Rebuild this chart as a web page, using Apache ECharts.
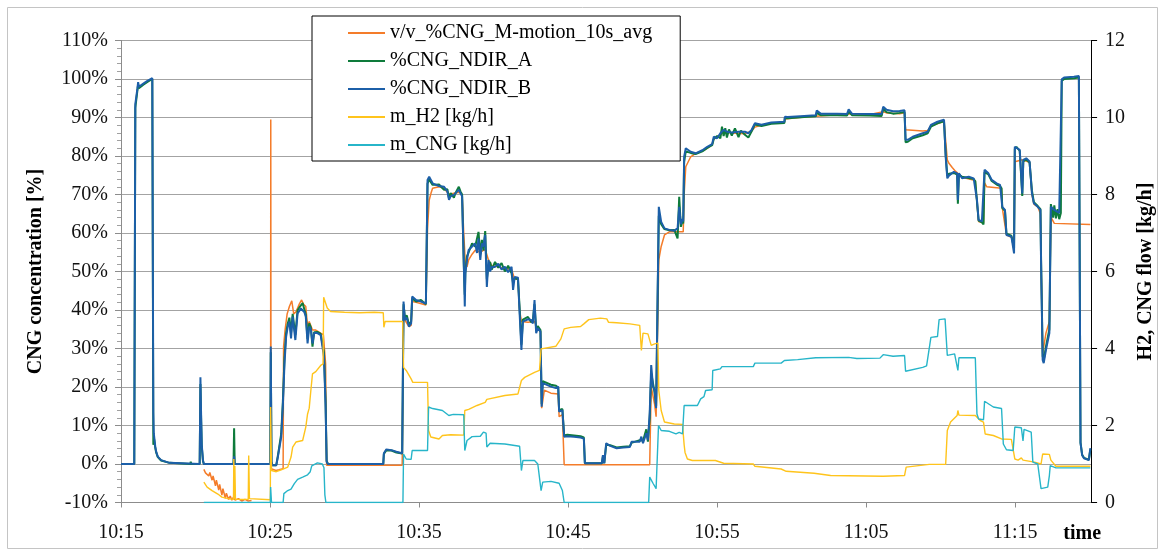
<!DOCTYPE html>
<html>
<head>
<meta charset="utf-8">
<title>CNG concentration and flows</title>
<script src="https://cdn.jsdelivr.net/npm/echarts@6/dist/echarts.min.js"></script>
<style>
  html, body { margin: 0; padding: 0; background: #fff; }
  #chart { width: 1164px; height: 558px; }
</style>
</head>
<body>
<div id="chart"></div>
<script>
// Time is given in minutes after the first clock tick (10:15).
const clockTicks = ['10:15', '10:25', '10:35', '10:45', '10:55', '11:05', '11:15'];
const timeSpan = 65.1;

const seriesNames = ['v/v_%CNG_M-motion_10s_avg', '%CNG_NDIR_A', '%CNG_NDIR_B', 'm_H2 [kg/h]', 'm_CNG [kg/h]'];

// v/v %CNG from the M-motion sensor, 10 s average [%]
const mmotionAvg = [
  [5.56, -1.4], [5.67, -2.3], [5.78, -1.8], [5.89, -3.1], [5.96, -2.2], [6.11, -4.2], [6.18, -3.1], [6.34, -5.7],
  [6.4, -4.2], [6.56, -6.8], [6.62, -5.3], [6.77, -8.1], [6.84, -6.4], [7.0, -8.9], [7.07, -7.6], [7.22, -9.2],
  [7.33, -8.3], [7.44, -9.4], [7.55, -8.6], [7.66, -9.4], [7.88, -9.0], [8.1, -9.6], [8.32, -9.2], [8.54, -9.6],
  [8.76, -9.5], [9.4, '-'], [10.04, 0], [10.05, 89.5], [10.07, -1.2], [10.4, -1.7], [10.6, -1.5], [10.88, -1.2],
  [10.91, 30.5], [11.01, 34.8], [11.15, 39], [11.3, 40.9], [11.46, 42.4], [11.59, 39], [11.74, 39.5], [11.97, 41.6],
  [12.12, 42.6], [12.25, 41.5], [12.4, 40.9], [12.52, 35.7], [12.63, 37], [12.85, 34.8], [13.07, 34.8], [13.4, 34],
  [13.58, 33.6], [13.73, 26], [13.8, -0.3], [18.87, -0.3], [18.96, 40.9], [19.05, 37.4], [19.32, 35.7], [19.47, 36],
  [19.54, 42.2], [19.8, 42], [20.46, 41.3], [20.57, 61], [20.68, 68.5], [20.8, 70.3], [20.91, 71.6], [21.34, 72],
  [21.68, 71.6], [22.01, 70], [22.34, 70.3], [22.67, 70.6], [22.89, 70], [23.0, 60], [23.11, 52], [23.22, 51.2],
  [23.33, 53], [23.56, 54.5], [23.77, 55.5], [24.11, 55], [24.44, 55.8], [24.66, 53], [24.88, 51.5], [25.32, 51.2],
  [25.76, 50.8], [26.21, 50.5], [26.42, 48], [26.64, 48], [26.75, 40], [26.87, 37], [27.31, 36.8], [27.75, 37],
  [27.97, 35], [28.15, 34.4], [28.23, 14.5], [28.41, 19.2], [28.85, 18.4], [29.34, 18.2], [29.4, 12.3], [29.62, 12.8],
  [29.74, -0.2], [35.48, -0.2], [35.58, 20.1], [35.81, 15.5], [35.91, 12.3], [36.03, 12.6], [36.09, 53], [36.25, 56.5],
  [36.47, 59.5], [36.8, 60.3], [37.35, 60.3], [37.73, 60.3], [37.79, 70], [37.9, 77.2], [38.23, 79.8], [38.56, 80.7],
  [39.01, 81.3], [39.34, 82], [39.67, 83], [39.78, 84.5], [40.22, 85.5], [40.44, 86.3], [40.99, 86], [41.87, 85.8],
  [42.32, 86.5], [42.54, 87.5], [42.98, 88], [43.64, 88.5], [44.52, 88.8], [44.55, 89.6], [45.85, 90.1], [46.62, 90.3],
  [46.69, 90.8], [48.06, 90.7], [48.83, 91], [50.26, 90.8], [51.15, 91.5], [51.37, 91.2], [52.25, 91], [52.58, 91.2],
  [52.65, 86.8], [53.8, 86.5], [54.13, 86.6], [54.35, 87.8], [55.23, 89], [55.34, 84], [55.45, 79], [55.56, 78.1],
  [55.78, 77], [56.01, 76], [56.44, 74.5], [57.33, 73.6], [57.44, 68], [57.55, 63], [57.88, 62.6], [57.95, 73],
  [58.1, 72], [59.09, 71.6], [59.14, 66.5], [59.42, 59.5], [59.87, 58.6], [59.93, 57], [59.98, 78.5], [60.09, 79],
  [60.48, 79], [60.97, 78.4], [61.13, 70], [61.26, 67.5], [61.52, 66.8], [61.7, 65], [61.74, 53], [61.85, 28.7],
  [62.07, 34], [62.3, 37], [62.4, 64.2], [62.63, 62.5], [62.74, 62.2], [65.05, 62.2]
];

// %CNG from NDIR analyser A [%]
const ndirA = [
  [0, 0], [0.89, 0], [0.96, 92.5], [1.1, 97], [1.15, 98.6], [1.2, 97.6], [1.5, 98.5], [1.8, 99.3], [2.1, 100],
  [2.14, 100.4], [2.17, 5.0], [2.22, 6.5], [2.3, 4.2], [2.36, 3.0], [2.47, 1.8], [2.69, 0.9], [3.25, 0.3], [3.36, 0],
  [4.65, 0], [4.68, 0.6], [4.72, 0], [5.28, 0], [5.33, 20.8], [5.38, 11], [5.42, 4.5], [5.5, 0.8], [5.56, 0],
  [7.55, 0], [7.59, 9.3], [7.63, 0], [10.02, 0], [10.05, 29], [10.1, 0.5], [10.15, -0.3], [10.42, -0.3], [10.53, 2.2],
  [10.75, 7.8], [10.86, 16], [10.97, 27.5], [11.08, 34], [11.19, 36.5], [11.3, 38], [11.41, 34], [11.52, 39],
  [11.7, 33.5], [11.85, 40], [12.07, 41.2], [12.19, 41.8], [12.3, 40.2], [12.4, 38.8], [12.52, 32.5], [12.63, 36.5],
  [12.74, 35.5], [12.85, 30.5], [12.96, 34.2], [13.18, 34.3], [13.4, 33.8], [13.51, 33.4], [13.62, 29], [13.73, 16],
  [13.8, 0.8], [13.89, 0], [17.6, 0], [17.64, 2.6], [17.81, 3.6], [18.15, 3.5], [18.48, 3.0], [18.87, 2.7],
  [18.96, 41.5], [19.05, 38], [19.18, 38.6], [19.32, 36.2], [19.47, 37], [19.54, 43], [19.8, 42.2], [20.13, 42.6],
  [20.46, 41.5], [20.57, 72.8], [20.68, 73.9], [20.91, 72.5], [21.34, 72.6], [21.68, 71.2], [21.9, 71.4], [22.01, 69],
  [22.12, 70.4], [22.34, 69.2], [22.45, 70.4], [22.67, 72], [22.78, 70.8], [22.89, 70], [23.0, 52], [23.07, 44],
  [23.11, 50], [23.22, 54], [23.33, 55], [23.56, 57.3], [23.77, 56.5], [23.89, 56], [23.99, 60.3], [24.11, 54.5],
  [24.22, 58.2], [24.32, 55.5], [24.44, 60.5], [24.55, 48], [24.66, 51.5], [24.77, 52.5], [24.88, 50.5], [25.1, 52.5],
  [25.32, 51], [25.54, 52.2], [25.76, 50], [25.98, 51.5], [26.21, 49.5], [26.31, 47], [26.42, 48.3], [26.64, 48],
  [26.75, 40.5], [26.87, 31], [26.97, 37.5], [27.31, 38.2], [27.53, 36.8], [27.64, 37.4], [27.75, 41.5], [27.86, 35],
  [27.97, 35.8], [28.15, 34.8], [28.23, 15.5], [28.3, 21.5], [28.41, 22], [28.85, 20.6], [29.19, 20.3], [29.34, 19.8],
  [29.4, 14], [29.52, 13.6], [29.62, 14.3], [29.74, 7.4], [29.95, 7.6], [30.4, 7.4], [30.84, 7.2], [31.06, 6.9],
  [31.13, 0.2], [32.27, 0.2], [32.34, 2.0], [32.43, 0.2], [32.56, 5.0], [32.83, 4.9], [33.26, 4.3], [33.71, 4.5],
  [34.15, 4.6], [34.26, 5.5], [34.81, 6.2], [34.92, 6.6], [35.03, 6.0], [35.25, 9], [35.36, 5.8], [35.48, 12],
  [35.58, 23.5], [35.7, 21], [35.81, 18.5], [35.91, 15], [36.03, 15.2], [36.09, 64.5], [36.25, 62.3], [36.47, 61],
  [36.8, 60.7], [37.13, 60.8], [37.35, 58.6], [37.46, 69.4], [37.57, 61.6], [37.68, 63.2], [37.73, 62.5], [37.79, 78.5],
  [37.9, 81.2], [38.23, 80.8], [38.56, 80.5], [39.01, 81.2], [39.34, 82.1], [39.67, 82.8], [39.78, 84.4], [40, 85.2],
  [40.22, 84.6], [40.33, 87.6], [40.44, 85.2], [40.55, 87.2], [40.66, 84.8], [40.8, 86.9], [40.99, 85.3], [41.2, 87.2],
  [41.44, 84.9], [41.6, 86.6], [41.87, 85.5], [42.1, 84.8], [42.32, 86.4], [42.54, 88.2], [42.98, 87.8], [43.42, 88.2],
  [43.64, 88.4], [44.52, 88.6], [44.55, 89.9], [44.75, 89.8], [45.85, 90.1], [46.62, 90.3], [46.69, 91.2], [46.95, 90.6],
  [48.06, 90.6], [48.72, 90.5], [48.83, 91.6], [49.05, 90.6], [50.26, 90.5], [51.04, 90.4], [51.15, 92.2], [51.37, 91.4],
  [51.81, 91], [52.25, 91.2], [52.36, 91.3], [52.58, 91.4], [52.65, 83.6], [52.8, 83.7], [53.13, 84.6], [53.8, 85.4],
  [54.13, 85.9], [54.35, 87.6], [54.79, 88.5], [55.23, 89], [55.34, 80.5], [55.45, 74.8], [55.56, 75.4], [55.89, 75.6],
  [56.01, 75.8], [56.11, 75.2], [56.16, 67.6], [56.23, 75.2], [56.44, 74.6], [56.89, 74.3], [57.22, 74], [57.33, 73.4],
  [57.44, 68.2], [57.55, 63.2], [57.77, 62.8], [57.88, 62.2], [57.95, 75.8], [57.99, 76.3], [58.21, 75.2], [58.43, 73.5],
  [58.76, 72.6], [58.99, 72.2], [59.09, 71.6], [59.14, 66.5], [59.32, 65.8], [59.42, 59.8], [59.75, 59.3], [59.87, 58.9],
  [59.93, 56], [59.98, 81.8], [60.09, 82.4], [60.31, 81.3], [60.42, 80.8], [60.48, 69.6], [60.55, 78.6], [60.75, 79.1],
  [60.97, 78.3], [61.08, 77.8], [61.13, 71], [61.26, 68], [61.52, 67], [61.7, 66.2], [61.74, 54], [61.85, 28],
  [61.92, 27], [62.07, 30.5], [62.3, 35], [62.4, 67.5], [62.47, 66], [62.55, 64], [62.63, 67.2], [62.74, 63.8],
  [62.85, 66.2], [62.96, 63.6], [63.07, 65.2], [63.13, 99.5], [63.29, 100], [63.95, 100.2], [64.28, 100.4], [64.39, 5.6],
  [64.5, 2.4], [64.62, 1.6], [64.95, 1.1], [65.05, 3.8]
];

// %CNG from NDIR analyser B [%]
const ndirB = [
  [0, 0], [0.89, 0], [0.96, 93.5], [1.1, 97.5], [1.15, 99.2], [1.2, 98.0], [1.5, 98.8], [1.8, 99.6], [2.1, 100.2],
  [2.14, 100.6], [2.17, 13.2], [2.2, 8], [2.3, 4.5], [2.36, 3.2], [2.47, 1.9], [2.69, 1.0], [3.25, 0.3], [3.36, 0],
  [5.28, 0], [5.33, 22.5], [5.38, 12], [5.42, 5], [5.5, 1], [5.56, 0], [7.55, 0], [7.59, 2.0], [7.63, 0], [10.02, 0],
  [10.05, 30.5], [10.1, 0.6], [10.15, -0.3], [10.42, -0.3], [10.53, 1.9], [10.75, 7], [10.86, 14.9], [10.97, 26],
  [11.08, 33], [11.19, 35.7], [11.3, 37], [11.41, 32.6], [11.52, 38.3], [11.7, 32.2], [11.85, 39.1], [12.07, 40.4],
  [12.19, 40.9], [12.3, 39.5], [12.4, 38.3], [12.52, 31.3], [12.63, 35.7], [12.74, 35], [12.85, 31.3], [12.96, 34],
  [13.18, 34], [13.4, 33.5], [13.51, 33.2], [13.62, 27.9], [13.73, 14.9], [13.8, 0.6], [13.89, 0], [17.6, 0],
  [17.64, 2.8], [17.81, 3.8], [18.15, 3.6], [18.48, 3.2], [18.87, 2.8], [18.96, 42.2], [19.05, 37.4], [19.18, 38],
  [19.32, 35.7], [19.47, 36.5], [19.54, 43.5], [19.8, 42.6], [20.13, 42.2], [20.46, 41.7], [20.57, 73.8], [20.68, 74.6],
  [20.91, 72.9], [21.34, 72.2], [21.68, 72], [21.9, 70.8], [22.01, 68.6], [22.12, 69.5], [22.34, 69.9], [22.45, 69.5],
  [22.67, 71.2], [22.78, 70.4], [22.89, 69.5], [23.0, 53], [23.07, 40.9], [23.11, 49.5], [23.22, 53], [23.33, 55.6],
  [23.56, 56.5], [23.77, 57.3], [23.89, 54.8], [23.99, 58.6], [24.11, 53], [24.22, 57.3], [24.32, 56.5], [24.44, 59.5],
  [24.55, 46], [24.66, 53], [24.77, 50], [24.88, 51.2], [25.1, 51.2], [25.32, 52], [25.54, 50.5], [25.76, 51.2],
  [25.98, 49.8], [26.21, 51.2], [26.31, 45.2], [26.42, 48.6], [26.64, 48.4], [26.75, 39.1], [26.87, 29.6], [26.97, 37],
  [27.31, 37.6], [27.53, 37.4], [27.64, 36.5], [27.75, 42.6], [27.86, 34], [27.97, 35.3], [28.15, 34.4], [28.23, 14.9],
  [28.3, 21], [28.41, 21.4], [28.85, 20.1], [29.19, 19.7], [29.34, 20.1], [29.4, 13.6], [29.52, 13.2], [29.62, 14],
  [29.74, 7.1], [29.95, 7.2], [30.4, 7.1], [30.84, 6.9], [31.06, 6.6], [31.13, 0.2], [32.27, 0.2], [32.34, 2.3],
  [32.43, 0.2], [32.56, 5.4], [32.83, 4.7], [33.26, 4.1], [33.71, 4.3], [34.15, 4.4], [34.26, 5.8], [34.81, 5.8],
  [34.92, 7.1], [35.03, 5.4], [35.25, 8], [35.36, 6.2], [35.48, 13.2], [35.58, 25.7], [35.7, 20.1], [35.81, 19.2],
  [35.91, 14.5], [36.03, 14.9], [36.09, 66.8], [36.25, 62.9], [36.47, 61.2], [36.8, 60.8], [37.13, 60.6], [37.35, 61.2],
  [37.46, 66.8], [37.57, 62.3], [37.68, 63.6], [37.73, 63], [37.79, 79.8], [37.9, 82], [38.23, 81.1], [38.56, 80.7],
  [39.01, 81.5], [39.34, 82.4], [39.67, 83.1], [39.78, 85], [40, 84.6], [40.22, 85.9], [40.44, 86.8], [40.66, 86.3],
  [40.99, 86.1], [41.44, 86.3], [41.87, 86.3], [42.1, 85.9], [42.32, 86.8], [42.54, 88.5], [42.98, 88.1], [43.42, 88.5],
  [43.64, 88.7], [44.52, 88.9], [44.55, 90.2], [44.75, 90.1], [45.85, 90.4], [46.62, 90.6], [46.69, 91.8], [46.95, 91],
  [48.06, 91], [48.72, 90.9], [48.83, 92.1], [49.05, 91], [50.26, 90.9], [51.04, 90.9], [51.15, 92.8], [51.37, 92],
  [51.81, 91.6], [52.25, 91.7], [52.36, 91.9], [52.58, 91.9], [52.65, 84.2], [52.8, 84.2], [53.13, 85], [53.8, 85.9],
  [54.13, 86.3], [54.35, 88.1], [54.79, 88.9], [55.23, 89.4], [55.34, 79.8], [55.45, 74.2], [55.56, 74.9], [55.89, 75.9],
  [56.01, 76.2], [56.11, 75.5], [56.16, 68.6], [56.23, 75.5], [56.44, 74.2], [56.89, 74.6], [57.22, 74.2], [57.33, 73.8],
  [57.44, 68.6], [57.55, 63.4], [57.77, 63], [57.88, 62.5], [57.95, 76.4], [57.99, 76.8], [58.21, 75.5], [58.43, 73.8],
  [58.76, 72.9], [58.99, 72.5], [59.09, 72], [59.14, 66.8], [59.32, 66], [59.42, 59.5], [59.75, 59.1], [59.87, 58.6],
  [59.93, 54.7], [59.98, 82.4], [60.09, 82.9], [60.31, 81.6], [60.42, 81.2], [60.48, 70.3], [60.55, 79], [60.75, 79.4],
  [60.97, 78.6], [61.08, 78.1], [61.13, 70.3], [61.26, 67.7], [61.52, 66.8], [61.7, 66], [61.74, 53], [61.85, 27],
  [61.92, 26.2], [62.07, 29.6], [62.3, 34], [62.4, 66.8], [62.47, 67.3], [62.63, 66], [62.74, 65.6], [62.96, 65.2],
  [63.07, 64.7], [63.13, 99.9], [63.29, 100.4], [63.95, 100.6], [64.28, 100.8], [64.39, 5.4], [64.5, 2.3],
  [64.62, 1.5], [64.95, 1.0], [65.05, 4.1]
];

// Hydrogen mass flow [kg/h]
const massH2 = [
  [5.56, 0.53], [5.78, 0.4], [6.11, 0.31], [6.5, 0.22], [6.77, 0.14], [7.2, 0.1], [7.55, 0.08], [7.57, 1.13],
  [7.6, 0.1], [7.64, 0.95], [7.68, 0.08], [8.54, 0.08], [8.57, 1.22], [8.62, 0.1], [8.7, 0.07], [10.02, 0.07],
  [10.04, 2.48], [10.1, 0.83], [10.42, 0.8], [10.75, 0.85], [11.19, 0.92], [11.41, 1.18], [11.52, 1.44], [11.74, 1.57],
  [12.19, 1.61], [12.3, 1.65], [12.4, 1.96], [12.52, 2.3], [12.63, 2.45], [12.74, 2.91], [12.85, 3.34], [13.07, 3.4],
  [13.4, 3.56], [13.56, 3.6], [13.6, 5.33], [13.73, 5.3], [13.84, 5.05], [14.06, 4.96], [15, 4.94], [16, 4.93],
  [17, 4.94], [17.6, 4.93], [17.64, 4.55], [17.72, 4.7], [18.9, 4.7], [18.96, 3.51], [19.14, 3.43], [19.47, 3.21],
  [19.58, 3.12], [20.57, 3.12], [20.64, 1.87], [20.79, 1.7], [20.91, 1.65], [21.34, 1.65], [21.57, 1.74], [22.12, 1.76],
  [23.0, 1.75], [23.07, 2.39], [23.33, 2.42], [23.89, 2.52], [24.44, 2.6], [24.55, 2.68], [25.76, 2.78], [26.64, 2.82],
  [26.87, 3.17], [27.09, 3.25], [27.75, 3.38], [28.08, 3.43], [28.19, 3.99], [29.19, 4.06], [29.52, 4.25], [29.74, 4.51],
  [30.18, 4.55], [30.84, 4.57], [31.06, 4.64], [31.39, 4.75], [32.17, 4.79], [32.6, 4.77], [32.72, 4.68], [33.26, 4.67],
  [34.15, 4.64], [34.81, 4.6], [34.92, 3.95], [35.03, 4.40], [35.36, 4.38], [35.58, 4.08], [35.81, 4.12], [36.03, 4.14],
  [36.09, 2.91], [36.25, 2.39], [36.47, 2.09], [37.13, 2.04], [37.68, 2.03], [37.79, 1.5], [37.85, 1.3], [38.01, 1.13],
  [38.34, 1.09], [39.89, 1.09], [40.44, 1.02], [42.43, 1.0], [42.54, 0.94], [44.3, 0.87], [44.64, 0.81], [46.51, 0.76],
  [47.62, 0.70], [51.15, 0.68], [52.58, 0.70], [52.69, 0.92], [54.24, 0.99], [55.34, 0.99], [55.45, 1.87], [55.67, 2.09],
  [56.11, 2.26], [56.16, 2.39], [56.23, 2.27], [57.33, 2.26], [57.66, 2.13], [57.88, 2.09], [57.99, 1.78], [58.54, 1.74],
  [59.09, 1.65], [59.75, 1.64], [59.98, 1.13], [60.2, 1.1], [60.42, 1.16], [60.53, 1.1], [61.3, 1.05], [61.74, 1.0],
  [61.85, 1.26], [62.3, 1.25], [62.4, 1.1], [62.74, 0.94], [65.05, 0.94]
];

// CNG mass flow [kg/h]
const massCNG = [
  [5.56, 0], [10.02, 0], [10.04, 0.4], [10.1, 0], [10.88, 0], [10.93, 0.23], [11.01, 0.28], [11.19, 0.31],
  [11.41, 0.35], [11.63, 0.49], [11.85, 0.6], [12.19, 0.66], [12.52, 0.72], [12.7, 0.8], [12.8, 0.95], [13.18, 1.03],
  [13.51, 1.0], [13.62, 0.9], [13.68, 0.2], [13.75, 0], [18.92, 0], [18.96, 1.26], [19.14, 1.13], [19.47, 1.12],
  [19.54, 1.35], [20.57, 1.35], [20.64, 2.48], [20.91, 2.44], [21.57, 2.39], [22.0, 2.26], [22.3, 2.29], [23.0, 2.28],
  [23.07, 1.35], [23.22, 1.61], [23.56, 1.71], [24.11, 1.72], [24.32, 1.83], [24.5, 1.8], [24.55, 1.44], [24.77, 1.54],
  [25.76, 1.52], [26.42, 1.48], [26.75, 1.46], [26.87, 0.83], [26.97, 1.09], [27.75, 1.09], [27.97, 1.0], [28.19, 0.31],
  [28.3, 0.53], [28.85, 0.55], [29.4, 0.5], [29.62, 0.31], [29.74, 0], [35.41, 0], [35.48, 0.66], [35.7, 0.5],
  [35.91, 0.36], [36.03, 0.36], [36.07, 2.0], [36.25, 1.87], [36.8, 1.85], [37.24, 1.78], [37.46, 1.82], [37.68, 1.78],
  [37.79, 2.52], [38.68, 2.52], [38.9, 2.69], [39.12, 2.75], [39.23, 2.91], [39.67, 2.93], [39.71, 3.43], [40.22, 3.47],
  [40.33, 3.53], [42.43, 3.53], [42.54, 3.62], [44.3, 3.62], [44.52, 3.69], [45.41, 3.71], [46.62, 3.76], [48.83, 3.77],
  [49.38, 3.74], [50.93, 3.75], [51.15, 3.84], [51.26, 3.86], [51.81, 3.8], [52.58, 3.82], [52.65, 3.41], [53.8, 3.51],
  [54.06, 3.55], [54.35, 4.29], [54.79, 4.31], [54.9, 4.75], [55.3, 4.77], [55.45, 3.82], [55.94, 3.86], [56.16, 3.43],
  [56.23, 3.76], [57.33, 3.76], [57.44, 2.30], [57.55, 2.17], [57.88, 2.15], [57.95, 2.63], [58.54, 2.48], [59.09, 2.44],
  [59.21, 1.52], [59.42, 1.37], [59.87, 1.35], [59.98, 1.96], [60.42, 1.94], [60.53, 1.6], [60.6, 1.9], [61.08, 1.83],
  [61.19, 1.05], [61.52, 1.0], [61.74, 0.36], [61.96, 0.38], [62.19, 0.4], [62.3, 0.7], [62.36, 0.96], [62.4, 0.92],
  [62.74, 0.9], [65.05, 0.9]
];

const serif = "'Liberation Serif', 'Times New Roman', 'DejaVu Serif', serif";
const colors = ['#F47C2A', '#0E7B3B', '#1C5FA8', '#FFC41C', '#27B5C9'];

function lineSeries(name, data, color, width, yAxisIndex) {
  return {
    name: name,
    type: 'line',
    data: data,
    yAxisIndex: yAxisIndex,
    symbol: 'none',
    connectNulls: false,
    lineStyle: { color: color, width: width },
    itemStyle: { color: color },
    emphasis: { disabled: true }
  };
}

const chart = echarts.init(document.getElementById('chart'), null, { renderer: 'canvas' });

chart.setOption({
  animation: false,
  backgroundColor: '#ffffff',
  textStyle: { fontFamily: serif },
  graphic: [{
    type: 'rect',
    silent: true,
    z: -10,
    shape: { x: 7.5, y: 7.5, width: 1150, height: 541 },
    style: { fill: 'none', stroke: '#c4c4c4', lineWidth: 1 }
  }],
  grid: { left: 121, right: 60, top: 40.5, bottom: 55.5, containLabel: false },
  legend: {
    orient: 'vertical',
    left: 312,
    top: 16,
    padding: [7, 28, 6, 35],
    itemWidth: 37,
    itemHeight: 14,
    itemGap: 8,
    borderColor: '#000',
    borderWidth: 1,
    borderRadius: 0,
    backgroundColor: '#ffffff',
    // keep only the line sample in each legend entry (no marker dot)
    itemStyle: { opacity: 0, borderWidth: 0 },
    lineStyle: { width: 2 },
    textStyle: { fontFamily: serif, fontSize: 20, color: '#000', lineHeight: 20 },
    data: seriesNames
  },
  xAxis: {
    type: 'value',
    min: 0,
    max: timeSpan,
    interval: 10,
    name: 'time',
    nameLocation: 'end',
    nameGap: 10,
    nameTextStyle: {
      fontFamily: serif, fontSize: 20, fontWeight: 'bold', color: '#000',
      align: 'right', verticalAlign: 'top', padding: [21, 0, 0, 0]
    },
    axisLine: { show: true, onZero: false, lineStyle: { color: '#8c8c8c', width: 1 } },
    axisTick: { show: true, inside: false, length: 5, lineStyle: { color: '#8c8c8c' } },
    axisLabel: {
      margin: 20,
      fontFamily: serif,
      fontSize: 20,
      color: '#111',
      showMaxLabel: false,
      formatter: function (v) {
        const i = Math.round(v / 10);
        return Math.abs(v - i * 10) < 1e-6 && clockTicks[i] ? clockTicks[i] : '';
      }
    },
    splitLine: { show: false }
  },
  yAxis: [{
    type: 'value',
    position: 'left',
    min: -10,
    max: 110,
    interval: 10,
    name: 'CNG concentration [%]',
    nameLocation: 'middle',
    nameRotate: 90,
    nameGap: 75,
    nameTextStyle: { fontFamily: serif, fontSize: 20, fontWeight: 'bold', color: '#000' },
    axisLine: { show: true, lineStyle: { color: '#8c8c8c', width: 1 } },
    axisTick: { show: true, inside: false, length: 6, lineStyle: { color: '#8c8c8c' } },
    minorTick: { show: true, splitNumber: 5, length: 4, lineStyle: { color: '#a0a0a0' } },
    axisLabel: { margin: 13, fontFamily: serif, fontSize: 20, color: '#111', formatter: '{value}%' },
    splitLine: { show: true, lineStyle: { color: '#a3a3a3', width: 1 } }
  }, {
    type: 'value',
    position: 'right',
    min: 0,
    max: 12,
    interval: 2,
    name: 'H2, CNG flow [kg/h]',
    nameLocation: 'middle',
    nameRotate: 90,
    nameGap: 38,
    nameTextStyle: { fontFamily: serif, fontSize: 20, fontWeight: 'bold', color: '#000' },
    axisLine: { show: true, lineStyle: { color: '#000', width: 1 } },
    axisTick: { show: true, inside: false, length: 6, lineStyle: { color: '#000' } },
    axisLabel: { margin: 14, fontFamily: serif, fontSize: 20, color: '#111' },
    splitLine: { show: false }
  }],
  series: [
    lineSeries(seriesNames[0], mmotionAvg, colors[0], 1.5, 0),
    lineSeries(seriesNames[1], ndirA, colors[1], 2, 0),
    lineSeries(seriesNames[2], ndirB, colors[2], 2, 0),
    lineSeries(seriesNames[3], massH2, colors[3], 1.4, 1),
    lineSeries(seriesNames[4], massCNG, colors[4], 1.4, 1)
  ]
});
</script>
</body>
</html>
